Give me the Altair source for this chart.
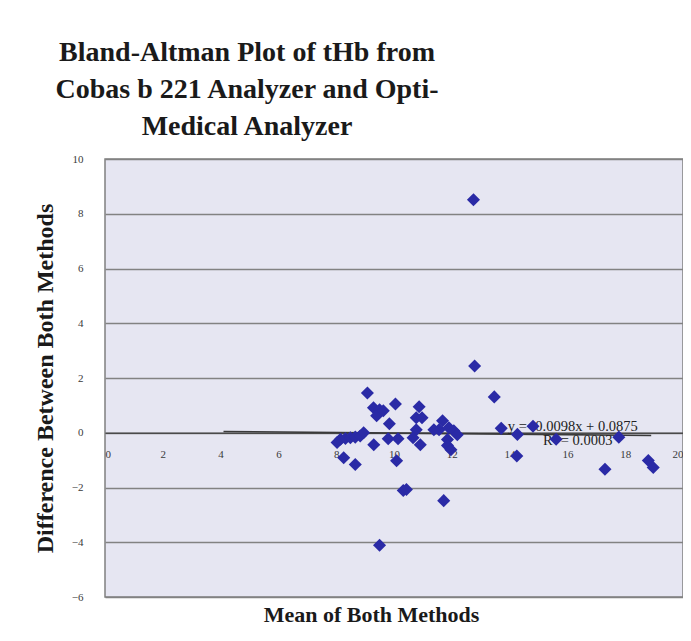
import altair as alt
import pandas as pd

# Scatter points (mean of both methods, difference between both methods)
mean_vals = [9.08, 9.29, 9.50, 9.40, 9.63, 10.05, 9.84, 10.87, 10.77, 10.97,
             10.77, 10.66, 10.91, 11.68, 11.56, 11.38, 11.90, 12.07, 12.19, 11.85,
             11.85, 11.97, 9.30, 9.80, 10.14, 10.09, 10.32, 10.43, 11.72,
             8.15, 8.32, 8.49, 8.66, 8.83, 8.95, 8.03, 8.26, 8.66, 9.50,
             12.75, 12.79, 13.47, 13.71, 14.27, 14.25, 14.81, 15.61, 17.78,
             17.30, 18.80, 18.97]
diff_vals = [1.45, 0.91, 0.84, 0.62, 0.80, 1.05, 0.33, 0.95, 0.55, 0.55,
             0.11, -0.18, -0.44, 0.44, 0.11, 0.11, 0.18, 0.07, -0.07, -0.25,
             -0.47, -0.62, -0.44, -0.22, -0.22, -1.02, -2.11, -2.07, -2.48,
             -0.24, -0.21, -0.18, -0.16, -0.12, 0.00, -0.36, -0.91, -1.16, -4.11,
             8.51, 2.44, 1.31, 0.16, -0.06, -0.85, 0.24, -0.24, -0.16,
             -1.33, -1.01, -1.27]

# Linear trendline end points
trend_x = [4.1, 18.9]
trend_y = [0.047, -0.098]

# Trendline equation labels
eq_labels = ["y = -0.0098x + 0.0875", "R² = 0.0003"]
eq_x = [13.94, 15.16]
eq_y = [0.2, -0.3]

x_ticks = [0, 2, 4, 6, 8, 10, 12, 14, 16, 18, 20]
y_ticks = [-6, -4, -2, 0, 2, 4, 6, 8, 10]

title_lines = ["Bland-Altman Plot of tHb from",
               "Cobas b 221 Analyzer and Opti-",
               "Medical Analyzer"]
x_title = "Mean of Both Methods"
y_title = "Difference Between Both Methods"

pts = pd.DataFrame({"mean": mean_vals, "diff": diff_vals})
trend = pd.DataFrame({"mean": trend_x, "diff": trend_y})
eq = pd.DataFrame({"mean": eq_x, "diff": eq_y, "label": eq_labels})

W = 578
H = 438
xs = alt.Scale(domain=[0, 20], nice=False, zero=False)
ys = alt.Scale(domain=[-6, 10], nice=False, zero=False)

serif = "Liberation Serif"

x_axis = alt.Axis(values=x_ticks, title=x_title, offset=-(H * 6 / 16), grid=False,
                  ticks=False, labelPadding=16, labelFontSize=11,
                  labelFont=serif, labelColor="#3a3a3a",
                  domainColor="#4a4a4a", domainWidth=1.5,
                  titleFont=serif, titleFontSize=22, titleFontWeight="bold",
                  titleColor="#1a1a1a", titleX=266, titleY=189,
                  titleAlign="center", titleBaseline="alphabetic")
y_axis = alt.Axis(values=y_ticks, title=y_title, grid=True, ticks=False,
                  domain=False, labelPadding=22, labelFontSize=11,
                  labelFont=serif, labelColor="#3a3a3a",
                  gridColor="#828282", gridWidth=1.5,
                  titleFont=serif, titleFontSize=24, titleFontWeight="bold",
                  titleColor="#1a1a1a", titleX=-60, titleY=H / 2,
                  titleAngle=-90, titleAlign="center", titleBaseline="middle")

enc_x = alt.X("mean:Q", scale=xs, axis=x_axis)
enc_y = alt.Y("diff:Q", scale=ys, axis=y_axis)

line = alt.Chart(trend).mark_line(color="#3a3a3a", strokeWidth=1.6).encode(
    x=enc_x, y=enc_y,
)

text = alt.Chart(eq).mark_text(align="left", baseline="middle", font=serif,
                               fontSize=14.5, color="#222222").encode(
    x=enc_x, y=enc_y, text="label:N",
)

points = alt.Chart(pts).mark_point(shape="diamond", filled=True, size=170,
                                   color="#2a2aa6", opacity=1).encode(
    x=enc_x, y=enc_y,
)

chart = alt.layer(line, text, points).properties(
    width=W,
    height=H,
    autosize=alt.AutoSizeParams(type="none"),
    padding={"left": 97, "top": 151, "right": 0, "bottom": 36},
    title=alt.TitleParams(text=title_lines, font=serif, fontSize=28,
                          fontWeight="bold", lineHeight=37, color="#1a1a1a",
                          anchor="middle", dx=-147, offset=12, frame="group"),
).configure(background="white").configure_view(
    fill="#E6E6F2", stroke="#808080", strokeWidth=1.5
)

chart.save("out.html", embed_options={"renderer": "svg", "actions": False})
